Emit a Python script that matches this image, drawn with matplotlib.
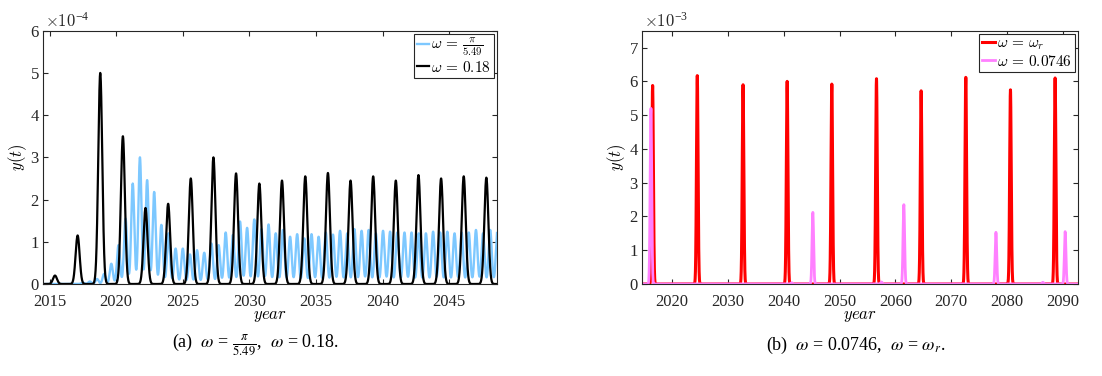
import numpy as np
import matplotlib
matplotlib.use('Agg')
import matplotlib.pyplot as plt

plt.rcParams['mathtext.fontset'] = 'cm'
plt.rcParams['font.family'] = ['Liberation Serif', 'DejaVu Serif']

# ---- panel (a): peak times (year) and heights (x 1e-4) ----
black_t = [2015.4, 2017.1, 2018.8, 2020.5, 2022.2, 2023.9, 2025.6, 2027.3, 2029.0,
           2030.75, 2032.45, 2034.2, 2035.9, 2037.6, 2039.3, 2041.0, 2042.7,
           2044.4, 2046.1, 2047.8]
black_h = [0.2, 1.15, 5.0, 3.5, 1.8, 1.9, 2.5, 3.0, 2.62, 2.38, 2.45, 2.55, 2.63,
           2.45, 2.55, 2.45, 2.58, 2.5, 2.55, 2.52]

blue_t = [2017.48, 2018.02, 2018.56, 2019.09, 2019.63, 2020.17, 2020.70, 2021.24,
          2021.78, 2022.32, 2022.85, 2023.39, 2023.93, 2024.46, 2025.00, 2025.54,
          2026.07, 2026.61, 2027.15, 2027.69, 2028.22, 2028.76, 2029.30, 2029.83,
          2030.37, 2030.91, 2031.44, 2031.98, 2032.52, 2033.06, 2033.59, 2034.13,
          2034.67, 2035.20, 2035.74, 2036.28, 2036.81, 2037.35, 2037.89, 2038.43,
          2038.96, 2039.50, 2040.04, 2040.57, 2041.11, 2041.65, 2042.18, 2042.72,
          2043.26, 2043.80, 2044.33, 2044.87, 2045.41, 2045.94, 2046.48, 2047.02,
          2047.55, 2048.09, 2048.63]
blue_h = [0.03, 0.06, 0.12, 0.24, 0.48, 0.92, 1.55, 2.38, 3.0, 2.46, 2.18, 1.4,
          1.2, 0.84, 0.84, 0.7, 0.8, 0.74, 0.96, 0.92, 1.22, 1.16, 1.48, 1.33,
          1.53, 1.3, 1.41, 1.2, 1.28, 1.12, 1.18, 1.08, 1.18, 1.12, 1.22, 1.17,
          1.26, 1.2, 1.3, 1.26, 1.28, 1.2, 1.26, 1.24, 1.22, 1.22, 1.22, 1.2,
          1.2, 1.24, 1.22, 1.24, 1.2, 1.22, 1.22, 1.28, 1.2, 1.28, 1.25]

# ---- panel (b): peak times (year) and heights (x 1e-3) ----
red_t = [2016.5, 2024.5, 2032.7, 2040.6, 2048.6, 2056.6, 2064.6, 2072.6, 2080.6, 2088.6]
red_h = [5.88, 6.17, 5.9, 6.0, 5.92, 6.08, 5.72, 6.12, 5.75, 6.1]

pink_t = [2016.2, 2041.4, 2045.2, 2057.5, 2061.5, 2078.0, 2086.4, 2090.4]
pink_h = [5.2, 0.04, 2.12, 0.06, 2.35, 1.53, 0.05, 1.55]

xticks_a = [2015, 2020, 2025, 2030, 2035, 2040, 2045]
xticks_b = [2020, 2030, 2040, 2050, 2060, 2070, 2080, 2090]


def pulses(t, times, heights, width):
    y = np.zeros_like(t)
    for tc, h in zip(times, heights):
        y += h * np.exp(-0.5 * ((t - tc) / width) ** 2)
    return y


def style(ax):
    for s in ax.spines.values():
        s.set_color('#262626')
        s.set_linewidth(0.8)
    ax.tick_params(direction='in', top=True, right=True, length=3.5, width=0.8,
                   colors='#262626', labelsize=12)
    ax.tick_params(axis='x', pad=7)
    ax.tick_params(axis='y', pad=3)


fig = plt.figure(figsize=(11.02, 3.76), dpi=100)
ax1 = fig.add_axes([43 / 1102, 1 - 284 / 376, 454 / 1102, 253.3 / 376])
ax2 = fig.add_axes([642 / 1102, 1 - 284 / 376, 436 / 1102, 253.3 / 376])

ta = np.linspace(2014.5, 2048.6, 8000)
ax1.plot(ta, pulses(ta, blue_t, blue_h, 0.115), color='#7DC8FF', lw=1.7,
         label=r'$\omega\,=\,\frac{\pi}{5.49}$')
ax1.plot(ta, pulses(ta, black_t, black_h, 0.15), color='black', lw=1.6,
         label=r'$\omega\,=\,0.18$')
ax1.set_xlim(2014.5, 2048.6)
ax1.set_ylim(0, 6)
ax1.set_xticks(xticks_a)
ax1.set_yticks(range(7))
style(ax1)
ax1.set_ylabel(r'$y(t)$', fontsize=12, labelpad=1)
ax1.set_xlabel(r'$year$', fontsize=12, labelpad=-1)
ax1.text(0.005, 1.0, r'$\times10^{\mathregular{-4}}$', transform=ax1.transAxes,
         fontsize=12, color='#262626', va='bottom', ha='left')
leg1 = ax1.legend(loc='upper right', fontsize=11, handlelength=0.8, handletextpad=0.15,
                  borderpad=0.2, labelspacing=0.1, borderaxespad=0.2, fancybox=False,
                  framealpha=1, edgecolor='#262626')
leg1.get_frame().set_linewidth(0.8)

tb = np.linspace(2014.6, 2092.7, 8000)
ax2.plot(tb, pulses(tb, red_t, red_h, 0.14), color='#FF0000', lw=2.2,
         label=r'$\omega\,=\,\omega_r$')
ax2.plot(tb, pulses(tb, pink_t, pink_h, 0.14), color='#FF80FF', lw=2.0,
         label=r'$\omega\,=\,0.0746$')
ax2.set_xlim(2014.6, 2092.7)
ax2.set_ylim(0, 7.5)
ax2.set_xticks(xticks_b)
ax2.set_yticks(range(8))
style(ax2)
ax2.set_ylabel(r'$y(t)$', fontsize=12, labelpad=1)
ax2.set_xlabel(r'$year$', fontsize=12, labelpad=-1)
ax2.text(0.005, 1.0, r'$\times10^{\mathregular{-3}}$', transform=ax2.transAxes,
         fontsize=12, color='#262626', va='bottom', ha='left')
leg2 = ax2.legend(loc='upper right', fontsize=11, handlelength=0.8, handletextpad=0.15,
                  borderpad=0.2, labelspacing=0.1, borderaxespad=0.2, fancybox=False,
                  framealpha=1, edgecolor='#262626')
leg2.get_frame().set_linewidth(0.8)

fig.text(255 / 1102, 1 - 345 / 376, r'(a)  $\omega$ = $\frac{\pi}{5.49}$,  $\omega$ = 0.18.',
         ha='center', va='center', fontsize=13, math_fontfamily='stix')
fig.text(856 / 1102, 1 - 345 / 376, r'(b)  $\omega$ = 0.0746,  $\omega$ = $\omega_r$.',
         ha='center', va='center', fontsize=13, math_fontfamily='stix')

fig.savefig('out.png', dpi=100)
